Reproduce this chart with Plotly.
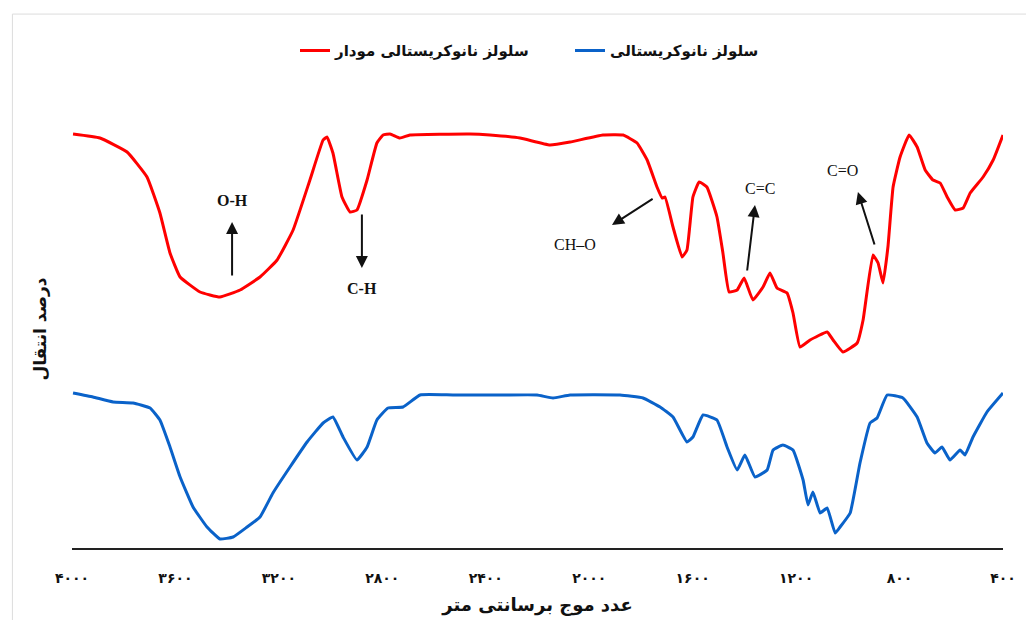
import plotly.graph_objects as go

# Wavenumber (cm-1) and transmittance (arbitrary %)
red_wn = [3996, 3892, 3787, 3710, 3660, 3621, 3582, 3505, 3428, 3350, 3273, 3207, 3145, 3080,
          3029, 3014, 2991, 2956, 2925, 2898, 2859, 2821, 2797, 2770, 2732, 2693, 2461, 2384,
          2268, 2152, 2074, 1947, 1869, 1815, 1776, 1738, 1718, 1707, 1676, 1641, 1622, 1599,
          1575, 1545, 1506, 1483, 1459, 1428, 1401, 1367, 1328, 1301, 1274, 1235, 1212, 1185,
          1146, 1080, 1057, 1019, 964, 941, 903, 883, 864, 845, 825, 798, 763, 732, 701, 671,
          643, 616, 585, 554, 527, 477, 438, 400]
red_t = [82.8, 82.0, 79.2, 74.2, 67.0, 59.0, 54.2, 51.2, 50.2, 51.6, 54.2, 57.6, 63.6, 73.6,
         81.6, 82.2, 79.0, 70.2, 67.2, 67.6, 73.6, 81.0, 82.6, 82.8, 82.0, 82.6, 82.8, 82.6,
         82.0, 80.6, 81.2, 82.6, 82.6, 81.0, 77.6, 72.2, 70.0, 70.2, 64.2, 58.2, 59.6, 70.2,
         73.2, 72.2, 66.2, 59.0, 51.2, 51.6, 54.0, 49.6, 52.2, 55.0, 52.0, 51.0, 47.0, 40.2,
         41.6, 43.2, 41.6, 39.2, 41.0, 45.6, 58.6, 57.0, 53.0, 60.2, 72.2, 78.2, 82.6, 80.2,
         75.6, 73.6, 73.0, 70.2, 67.6, 68.0, 71.0, 74.2, 77.6, 82.6]

blue_wn = [3996, 3919, 3841, 3764, 3698, 3660, 3621, 3582, 3532, 3478, 3428, 3377, 3323, 3273,
           3223, 3157, 3091, 3029, 2991, 2952, 2898, 2859, 2821, 2778, 2720, 2654, 2527, 2333,
           2202, 2140, 2074, 1881, 1792, 1726, 1676, 1622, 1599, 1560, 1506, 1467, 1428, 1398,
           1359, 1312, 1289, 1251, 1212, 1173, 1154, 1135, 1107, 1080, 1049, 1030, 991, 953,
           914, 887, 848, 787, 732, 694, 663, 636, 605, 566, 547, 516, 462, 400]
blue_t = [31.0, 30.2, 29.2, 29.0, 28.0, 25.6, 20.2, 14.2, 8.2, 4.2, 1.8, 2.2, 4.2, 6.2,
          11.0, 16.2, 21.2, 25.0, 26.2, 22.2, 17.6, 20.2, 25.6, 28.0, 28.2, 30.6, 30.6, 30.6,
          30.6, 30.0, 30.6, 30.6, 30.0, 28.2, 26.2, 21.2, 22.2, 26.6, 25.6, 20.2, 15.6, 18.6,
          14.2, 15.6, 19.6, 20.6, 19.6, 13.6, 8.6, 11.2, 7.0, 8.0, 3.0, 4.2, 7.0, 17.0,
          25.0, 26.0, 30.6, 30.0, 26.2, 21.0, 19.0, 20.2, 17.6, 19.6, 18.6, 22.2, 27.2, 31.0]

tick_vals = [4000, 3600, 3200, 2800, 2400, 2000, 1600, 1200, 800, 400]
tick_text = ["۴۰۰۰", "۳۶۰۰", "۳۲۰۰", "۲۸۰۰", "۲۴۰۰", "۲۰۰۰", "۱۶۰۰", "۱۲۰۰", "۸۰۰", "۴۰۰"]

red_name = "سلولز نانوکریستالی مودار"
blue_name = "سلولز نانوکریستالی"
x_title = "عدد موج برسانتی متر"
y_title = "درصد انتقال"

# band labels: (text, text_x, text_y, tail_x, tail_y, head_x, head_y)
bands = [
    ("O-H", 3381, 69.6, 3381, 54.2, 3381, 65.2),
    ("C-H", 2879, 52.0, 2879, 67.0, 2879, 56.0),
    ("CH\u2013O", 2055, 60.8, 1749, 70.0, 1912, 64.6),
    ("C=C", 1340, 72.0, 1390, 55.2, 1359, 68.6),
    ("C=O", 1019, 75.6, 895, 60.4, 961, 71.2),
]

fig = go.Figure()
fig.add_trace(go.Scatter(x=red_wn, y=red_t, mode="lines", name=red_name,
                         line=dict(color="#ff0000", width=3, shape="spline", smoothing=0.35)))
fig.add_trace(go.Scatter(x=blue_wn, y=blue_t, mode="lines", name=blue_name,
                         line=dict(color="#0a62c9", width=3, shape="spline", smoothing=0.35)))

for txt, tx, ty, ax_, ay_, hx, hy in bands:
    fig.add_annotation(x=hx, y=hy, ax=ax_, ay=ay_, xref="x", yref="y", axref="x", ayref="y",
                       text="", showarrow=True, arrowhead=2, arrowsize=1.2, arrowwidth=2,
                       arrowcolor="#111111")
    fig.add_annotation(x=tx, y=ty, xref="x", yref="y",
                       text="<b>" + txt + "</b>" if "-" in txt else txt,
                       showarrow=False,
                       font=dict(family="Liberation Serif, serif", size=16, color="#111111"))

fig.add_shape(type="rect", xref="paper", yref="paper", x0=-0.064, x1=1.031, y0=-0.17, y1=1.219,
              line=dict(color="#dcdcdc", width=1), fillcolor="rgba(0,0,0,0)", layer="below")

fig.update_layout(
    width=1018, height=612,
    paper_bgcolor="white", plot_bgcolor="white",
    margin=dict(l=64, r=23, t=102, b=72, autoexpand=False),
    showlegend=True,
    legend=dict(orientation="h", x=(295 - 72) / 931, xanchor="left", y=1.135, yanchor="middle",
                font=dict(family="DejaVu Sans, sans-serif", size=15, color="#111111", weight="bold"),
                entrywidth=230, entrywidthmode="pixels"),
    xaxis=dict(range=[4000, 400], tickvals=tick_vals, ticktext=tick_text, automargin=False,
               showgrid=False, zeroline=False, showline=True, linecolor="#222222", linewidth=1.5,
               ticks="", ticklabelstandoff=16,
               tickfont=dict(family="DejaVu Sans, sans-serif", size=14, color="#111111", weight="bold"),
               title=dict(text="<b>" + x_title + "</b>", standoff=14,
                          font=dict(family="DejaVu Sans, sans-serif", size=18, color="#111111"))),
    yaxis=dict(range=[0, 87.6], showgrid=False, zeroline=False, showline=False, automargin=False,
               showticklabels=False, ticks="",
               title=dict(text="<b>" + y_title + "</b>", standoff=20,
                          font=dict(family="DejaVu Sans, sans-serif", size=17, color="#111111"))),
)

fig.write_html("out.html")
